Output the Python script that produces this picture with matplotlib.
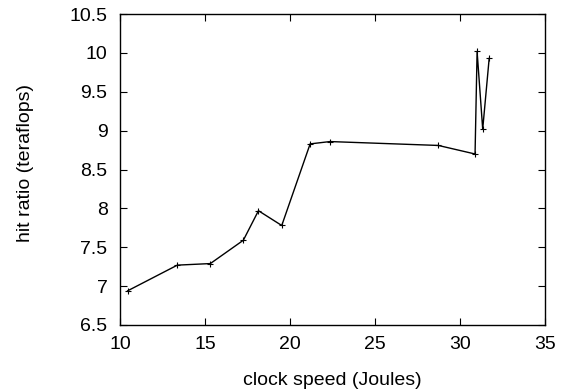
import matplotlib
matplotlib.use("Agg")
import matplotlib.pyplot as plt

# data
clock_speed = [10.45, 13.37, 15.31, 17.25, 18.14, 19.51, 21.18, 22.35, 28.72, 30.88, 31.0, 31.33, 31.71]
hit_ratio = [6.94, 7.27, 7.29, 7.59, 7.97, 7.78, 8.83, 8.86, 8.81, 8.70, 10.02, 9.02, 9.93]

x_ticks = [10, 15, 20, 25, 30, 35]
y_ticks = [6.5, 7, 7.5, 8, 8.5, 9, 9.5, 10, 10.5]

plt.rcParams['font.family'] = ['Liberation Sans', 'DejaVu Sans']
plt.rcParams['font.size'] = 14

fig = plt.figure(figsize=(5.69, 3.92), dpi=100)
ax = fig.add_axes([0.211, 0.171, 0.747, 0.793])

ax.plot(clock_speed, hit_ratio, color='black', linewidth=1.0,
        marker='+', markersize=5, markeredgewidth=0.8)

ax.set_xlim(10, 35)
ax.set_ylim(6.5, 10.5)
ax.set_xticks(x_ticks)
ax.set_xticklabels([str(t) for t in x_ticks])
ax.set_yticks(y_ticks)
ax.set_yticklabels([f"{t:g}" for t in y_ticks])

ax.tick_params(direction='in', top=True, right=True, length=5, width=0.8)
ax.tick_params(axis='x', pad=8)
ax.tick_params(axis='y', pad=9)
for s in ax.spines.values():
    s.set_linewidth(1.0)

ax.set_xlabel('clock speed (Joules)', va='center')
ax.set_ylabel('hit ratio (teraflops)', va='center')
ax.xaxis.set_label_coords(0.5, -0.18)
ax.yaxis.set_label_coords(-0.2235, 0.52)

fig.savefig('out.png', dpi=100)
